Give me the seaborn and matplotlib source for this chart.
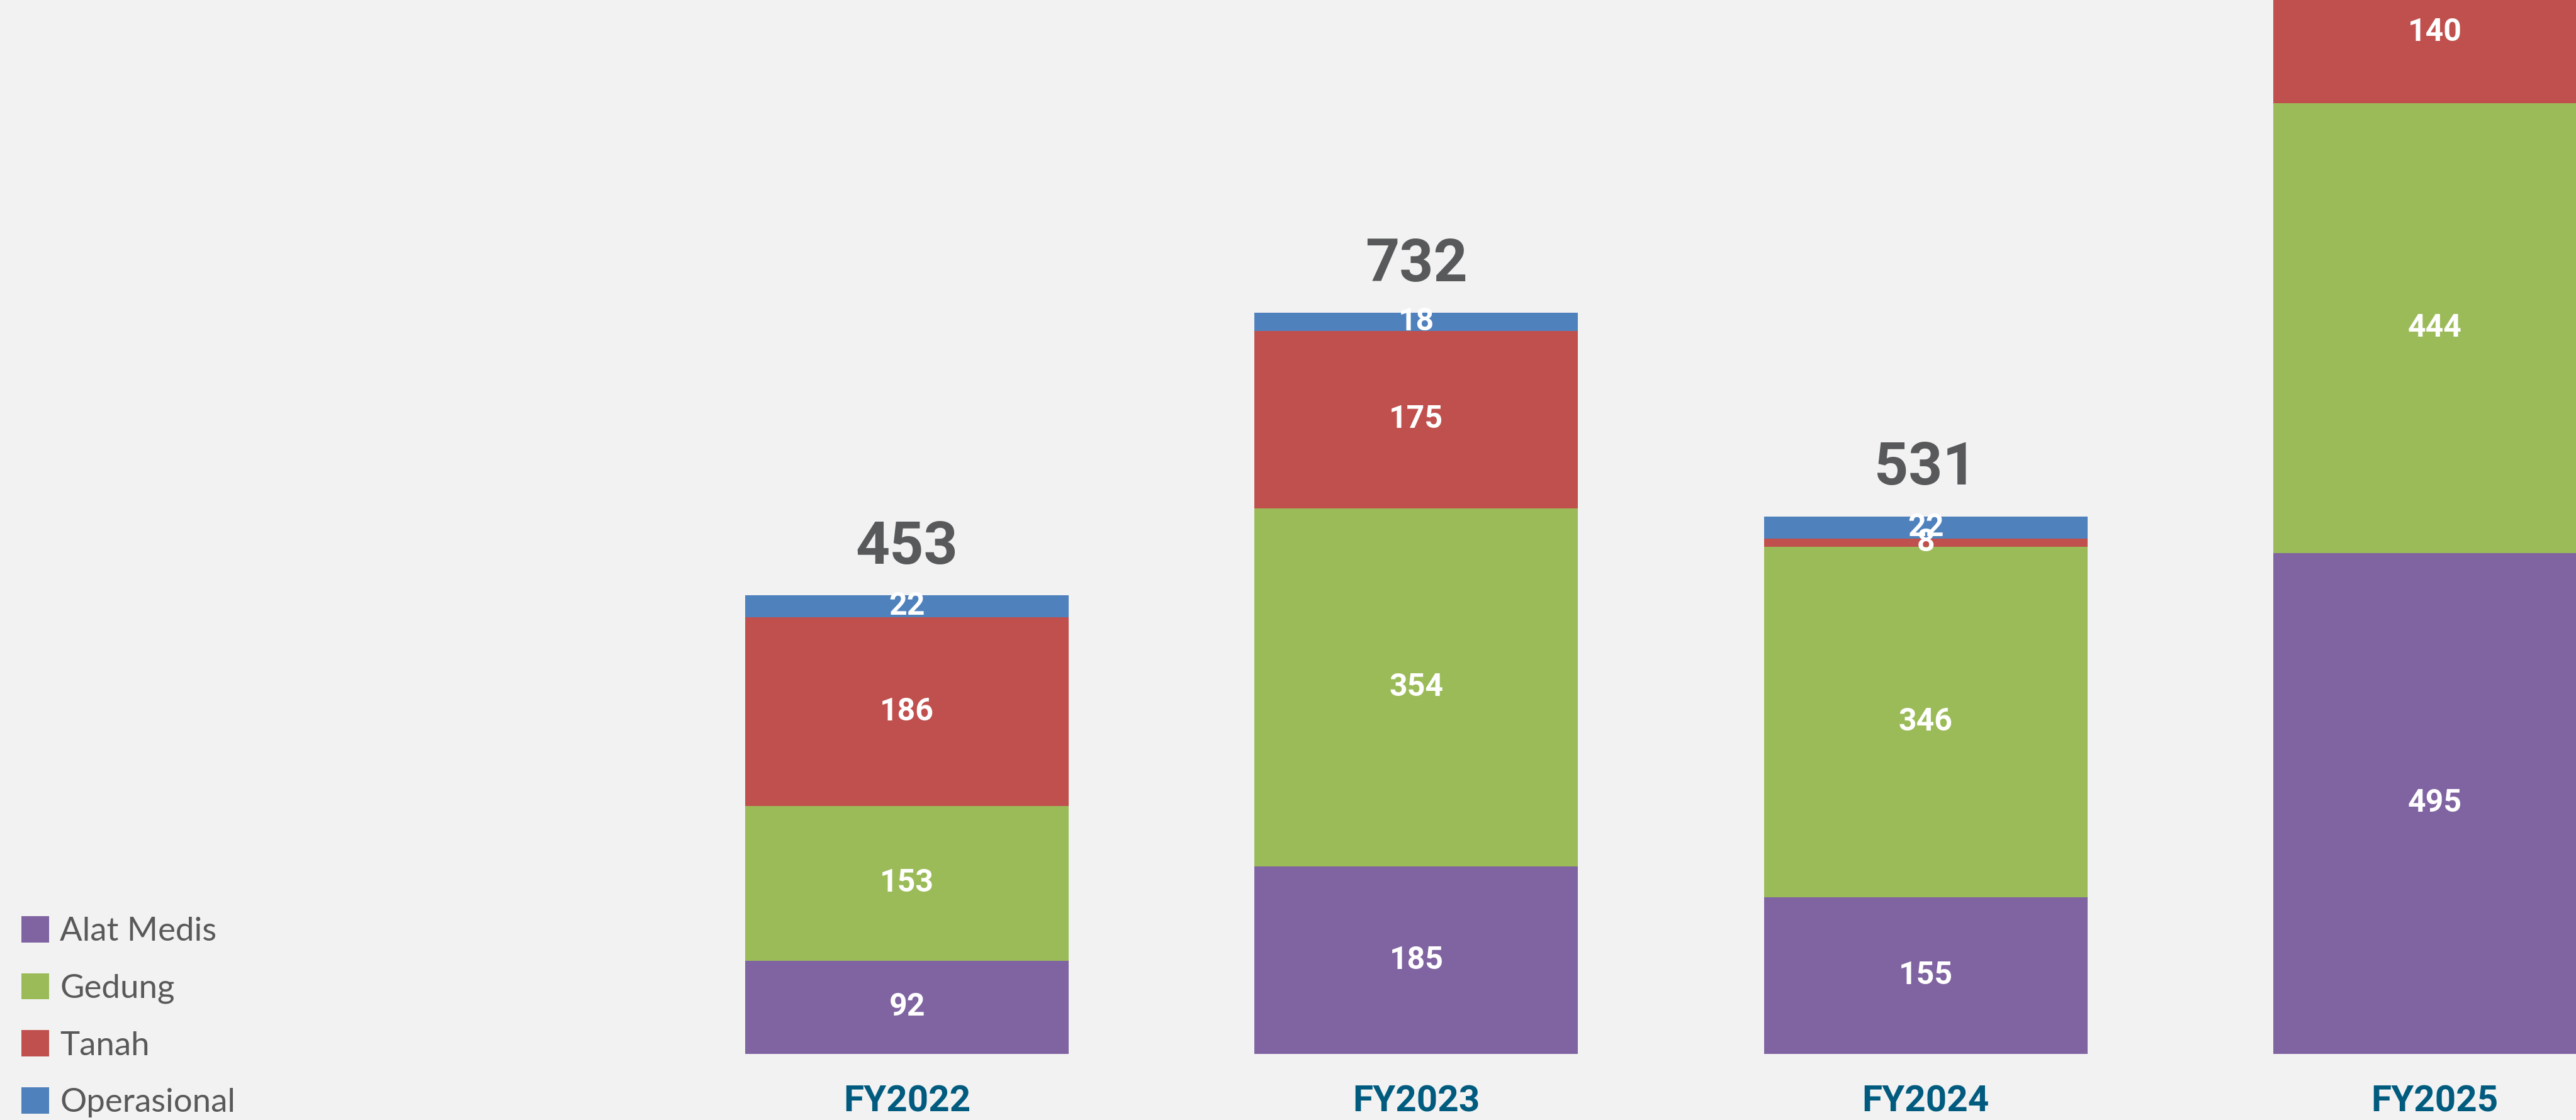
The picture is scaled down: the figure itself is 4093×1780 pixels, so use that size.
import matplotlib
matplotlib.use("Agg")
import matplotlib.pyplot as plt
from matplotlib.patches import Patch
import numpy as np
import pandas as pd
import seaborn as sns

# data
years = ["FY2022", "FY2023", "FY2024", "FY2025"]
alat_medis = [92, 185, 155, 495]
gedung = [153, 354, 346, 444]
tanah = [186, 175, 8, 140]
operasional = [22, 18, 22, np.nan]  # FY2025 terpotong di atas, tidak terbaca

series_names = ["Alat Medis", "Gedung", "Tanah", "Operasional"]
series_values = [alat_medis, gedung, tanah, operasional]
colors = ["#8064A2", "#9BBB59", "#C0504D", "#4F81BD"]

BG = "#F2F2F2"

sns.set_theme(style="white")
plt.rcParams["font.family"] = ["Roboto", "DejaVu Sans"]

fig = plt.figure(figsize=(40.93, 17.8), dpi=100, facecolor=BG)
ax = fig.add_axes([0, 0.059, 1, 0.941])
ax.set_facecolor(BG)

df = pd.DataFrame({"year": years})
tops = np.zeros(len(years))
bottoms = []
for name, vals in zip(series_names, series_values):
    bottoms.append(tops.copy())
    tops = tops + np.array(vals, dtype=float)
    df[name] = tops

# stacked: draw cumulative totals from the top layer down
for name, color in reversed(list(zip(series_names, colors))):
    sns.barplot(data=df, x="year", y=name, order=years, color=color,
                width=0.635, linewidth=0, saturation=1, ax=ax)

# segment labels
for name, vals, bots in zip(series_names, series_values, bottoms):
    for i, (v, b) in enumerate(zip(vals, bots)):
        if np.isnan(v):
            continue
        ax.text(i, b + v / 2, f"{v:.0f}", ha="center", va="center",
                color="white", fontsize=36, fontweight="bold", clip_on=True)

# total labels
totals = df["Operasional"].values
for i, t in enumerate(totals):
    if np.isnan(t):
        continue
    ax.annotate(f"{t:.0f}", (i, t), xytext=(0, 55), textcoords="offset points",
                ha="center", va="center", color="#58595B",
                fontsize=68, fontweight="bold")

ax.set_xlim(-1.781, 3.277)
ax.set_ylim(0, 1041)
ax.set_xlabel("")
ax.set_ylabel("")
ax.set_yticks([])
ax.tick_params(axis="x", length=0, pad=35, labelsize=42, labelcolor="#005B7F")
for lbl in ax.get_xticklabels():
    lbl.set_fontweight("bold")
sns.despine(ax=ax, left=True, bottom=True)

handles = [Patch(facecolor=c, edgecolor="none") for c in colors]
fig.legend(handles, series_names, loc="lower left",
           bbox_to_anchor=(34 / 4093, 4 / 1780), frameon=False,
           borderpad=0, borderaxespad=0, handlelength=0.84, handleheight=0.84,
           handletextpad=0.32, labelspacing=0.8,
           prop={"family": ["Lato", "DejaVu Sans"], "size": 38},
           labelcolor="#595959")

fig.savefig("out.png", dpi=100, facecolor=BG)
